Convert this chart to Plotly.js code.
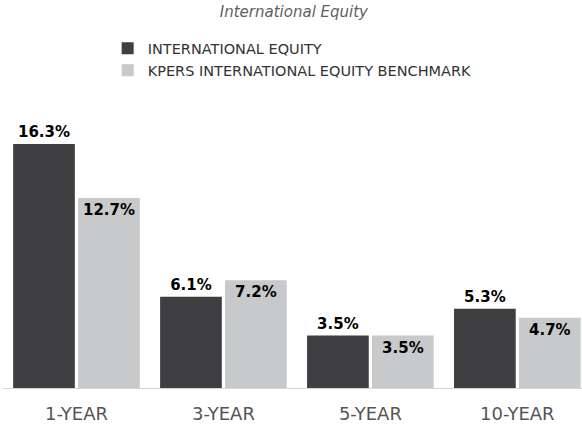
<!DOCTYPE html>
<html>
<head>
<meta charset="utf-8">
<script src="https://cdn.plot.ly/plotly-3.0.1.min.js"></script>
<style>
  html, body { margin: 0; padding: 0; background: #fff; }
  #chart { width: 582px; height: 432px; }
</style>
</head>
<body>
<div id="chart"></div>
<script>
// Periods and returns (%)
const periods = ['1-YEAR', '3-YEAR', '5-YEAR', '10-YEAR'];
const intlEquity = [16.3, 6.1, 3.5, 5.3];
const benchmark = [12.7, 7.2, 3.5, 4.7];

const pos = periods.map((p, i) => i);
const fmt = v => v.toFixed(1) + '%';

const data = [{
  type: 'bar',
  name: 'INTERNATIONAL EQUITY',
  x: pos,
  y: intlEquity,
  text: intlEquity.map(fmt),
  textposition: 'outside',
  constraintext: 'none',
  cliponaxis: false,
  textfont: {family: 'DejaVu Sans', size: 15, color: '#000', weight: 'bold'},
  marker: {color: '#3f3f41'},
  hoverinfo: 'none'
}, {
  type: 'bar',
  name: 'KPERS INTERNATIONAL EQUITY BENCHMARK',
  x: pos,
  y: benchmark,
  text: benchmark.map(fmt),
  textposition: 'inside',
  insidetextanchor: 'end',
  constraintext: 'none',
  textangle: 0,
  textfont: {family: 'DejaVu Sans', size: 15, color: '#000', weight: 'bold'},
  marker: {color: '#c8c9cb'},
  hoverinfo: 'none'
}];

const layout = {
  width: 582,
  height: 432,
  margin: {l: 3, r: 0, t: 118, b: 44, autoexpand: false},
  paper_bgcolor: '#fff',
  plot_bgcolor: '#fff',
  font: {family: 'DejaVu Sans', color: '#333'},
  title: {
    text: '<i>International Equity</i>',
    font: {family: 'DejaVu Sans', size: 15, color: '#606060'},
    x: 0.505, xanchor: 'center',
    y: 0.972, yanchor: 'middle'
  },
  barmode: 'group',
  bargap: 0.116,
  bargroupgap: 0.05,
  showlegend: true,
  legend: {
    xref: 'container', yref: 'container',
    x: 0.185, y: 0.925, xanchor: 'left', yanchor: 'top',
    font: {family: 'DejaVu Sans', size: 14.5, color: '#333'},
    traceorder: 'normal',
    itemclick: false
  },
  xaxis: {
    range: [-0.5, 3.44],
    tickmode: 'array',
    tickvals: pos,
    ticktext: periods,
    showline: true,
    linecolor: '#d3d9e6',
    linewidth: 1,
    showgrid: false,
    zeroline: false,
    ticks: '',
    tickangle: 0,
    ticklabelstandoff: 9,
    tickfont: {family: 'DejaVu Sans', size: 18, color: '#555'},
    fixedrange: true
  },
  yaxis: {
    range: [0, 18.04],
    visible: false,
    showgrid: false,
    zeroline: false,
    fixedrange: true
  }
};

Plotly.newPlot('chart', data, layout, {displayModeBar: false, staticPlot: true});
</script>
</body>
</html>
